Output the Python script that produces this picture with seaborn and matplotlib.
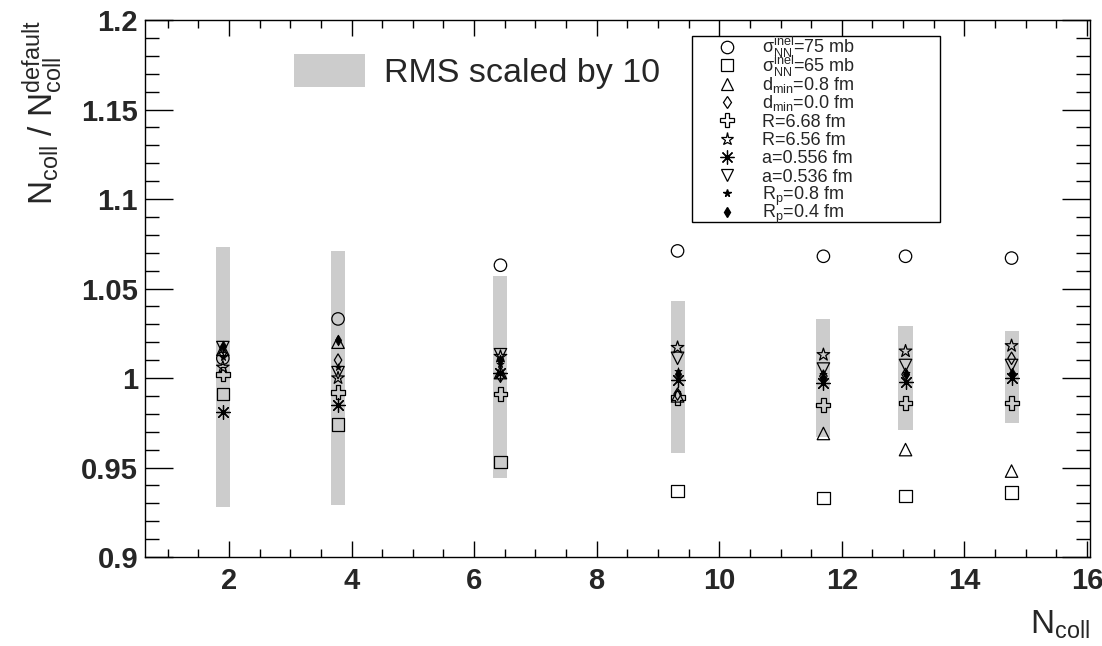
import numpy as np
import pandas as pd
import matplotlib
matplotlib.use("Agg")
import matplotlib.pyplot as plt
import seaborn as sns
from matplotlib.patches import Patch, Rectangle
from matplotlib.lines import Line2D

# ---------------- data ----------------
ncoll = [1.90, 3.78, 6.43, 9.32, 11.70, 13.04, 14.77]
rms_lo = [0.928, 0.929, 0.944, 0.958, 0.967, 0.971, 0.975]
rms_hi = [1.073, 1.071, 1.057, 1.043, 1.033, 1.029, 1.026]

sigma75 = [1.011, 1.033, 1.063, 1.071, 1.068, 1.068, 1.067]
sigma65 = [0.991, 0.974, 0.953, 0.937, 0.933, 0.934, 0.936]
dmin08 = [1.016, 1.020, 1.003, 0.990, 0.969, 0.960, 0.948]
dmin00 = [1.014, 1.010, 1.001, 0.991, 1.001, 1.002, 1.011]
r668 = [1.002, 0.992, 0.991, 0.989, 0.985, 0.986, 0.986]
r656 = [1.006, 1.000, 1.012, 1.017, 1.013, 1.015, 1.018]
a556 = [0.981, 0.985, 1.003, 0.999, 0.997, 0.998, 1.000]
a536 = [1.017, 1.003, 1.013, 1.011, 1.005, 1.007, 1.007]
rp08 = [1.012, 1.006, 1.008, 1.004, 1.002, 1.003, 1.002]
rp04 = [1.018, 1.021, 1.010, 1.002, 1.000, 1.002, 1.003]

labels = [r"$\sigma^{inel}_{NN}$=75 mb", r"$\sigma^{inel}_{NN}$=65 mb",
          r"$d_{min}$=0.8 fm", r"$d_{min}$=0.0 fm",
          "R=6.68 fm", "R=6.56 fm", "a=0.556 fm", "a=0.536 fm",
          r"$R_{p}$=0.8 fm", r"$R_{p}$=0.4 fm"]
series = [sigma75, sigma65, dmin08, dmin00, r668, r656, a556, a536, rp08, rp04]

# (marker, size, filled)
styles = [("o", 80, False), ("s", 80, False), ("^", 80, False), ("d", 40, False),
          ("P", 100, False), ("*", 90, False), ((8, 2, 0), 100, None), ("v", 80, False),
          ("*", 30, True), ("d", 30, True)]

# ---------------- style ----------------
sns.set_style("ticks")
plt.rcParams["font.family"] = ["Liberation Sans", "DejaVu Sans"]
plt.rcParams["mathtext.fontset"] = "custom"
plt.rcParams["mathtext.rm"] = "Liberation Sans"
plt.rcParams["mathtext.it"] = "Liberation Sans"
plt.rcParams["mathtext.default"] = "regular"

W, H = 1102, 646
fig = plt.figure(figsize=(W / 100, H / 100), dpi=100)
ax_l, ax_r, ax_t, ax_b = 145, 1090, 20, 557
ax = fig.add_axes([ax_l / W, 1 - ax_b / H, (ax_r - ax_l) / W, (ax_b - ax_t) / H])

# RMS bands
lo = np.array(rms_lo)
hi = np.array(rms_hi)
ax.bar(ncoll, hi - lo, bottom=lo, width=0.23, color="#cccccc", linewidth=0, zorder=1)

handles = []
for vals, lab, (mk, sz, filled) in zip(series, labels, styles):
    df = pd.DataFrame({"x": ncoll, "y": vals})
    if filled is None:
        sns.scatterplot(data=df, x="x", y="y", marker=mk, s=sz, color="black",
                        linewidth=0.9, ax=ax, zorder=3)
        kw = dict(color="black", markeredgewidth=0.9)
    elif filled:
        sns.scatterplot(data=df, x="x", y="y", marker=mk, s=sz, color="black",
                        edgecolor="black", linewidth=0.5, ax=ax, zorder=3)
        kw = dict(color="black")
    else:
        sns.scatterplot(data=df, x="x", y="y", marker=mk, s=sz, facecolors="none",
                        edgecolor="black", linewidth=0.9, ax=ax, zorder=3)
        kw = dict(markerfacecolor="none", markeredgecolor="black", markeredgewidth=0.9)
    handles.append((mk, np.sqrt(sz), kw))

ax.set_xlim(0.63, 16.05)
ax.set_ylim(0.9, 1.2)

ax.set_xticks(np.arange(2, 17, 2))
ax.set_xticks(np.arange(1, 16.01, 0.5), minor=True)
ax.set_yticks([0.9, 0.95, 1.0, 1.05, 1.1, 1.15, 1.2])
ax.set_yticks(np.arange(0.9, 1.2001, 0.01), minor=True)
ax.set_yticklabels(["0.9", "0.95", "1", "1.05", "1.1", "1.15", "1.2"])

ax.tick_params(axis="both", which="both", direction="in", top=True, right=True,
               width=1, color="black")
ax.tick_params(axis="x", which="major", length=11.5, labelsize=21, pad=7)
ax.tick_params(axis="x", which="minor", length=5.8)
ax.tick_params(axis="y", which="major", length=20, labelsize=21, pad=5)
ax.tick_params(axis="y", which="minor", length=10)
for lab in ax.get_xticklabels() + ax.get_yticklabels():
    lab.set_fontweight("bold")
for sp in ax.spines.values():
    sp.set_linewidth(1)
    sp.set_color("black")

ax.set_xlabel(r"$N_{coll}$", fontsize=24, loc="right", labelpad=10)
ax.set_ylabel(r"$N_{coll}\ /\ N_{coll}^{default}$", fontsize=24, loc="top", labelpad=12)

# ---- series legend box (drawn in axes coordinates) ----
def ax_x(px):
    return (px - ax_l) / (ax_r - ax_l)

def ax_y(py):
    return (ax_b - py) / (ax_b - ax_t)

box_l, box_r, box_t, box_b = 692, 940, 36, 222
ax.add_patch(Rectangle((ax_x(box_l), ax_y(box_b)), ax_x(box_r) - ax_x(box_l),
                       ax_y(box_t) - ax_y(box_b), transform=ax.transAxes,
                       facecolor="white", edgecolor="black", linewidth=1, zorder=4,
                       clip_on=False))
row0, pitch, fs_leg = 47, 18.3, 13
mk_x, txt_x = 727, 762
for i, (lab, (mk, ms, kw)) in enumerate(zip(labels, handles)):
    yc = row0 + i * pitch
    ax.add_line(Line2D([ax_x(mk_x)], [ax_y(yc)], transform=ax.transAxes, marker=mk,
                       markersize=ms, linestyle="none", zorder=5, clip_on=False, **kw))
    ax.text(ax_x(txt_x), ax_y(yc + 6.5), lab, transform=ax.transAxes, fontsize=fs_leg,
            ha="left", va="baseline", zorder=5)

# ---- RMS legend ----
ax.legend(handles=[Patch(facecolor="#cccccc", edgecolor="none")],
          labels=["RMS scaled by 10"], loc="upper left",
          bbox_to_anchor=(0.143, 0.962), fontsize=24.5, frameon=False,
          handlelength=2.1, handleheight=1.1, handletextpad=0.55,
          borderaxespad=0)

fig.savefig("out.png", dpi=100, facecolor="white")
